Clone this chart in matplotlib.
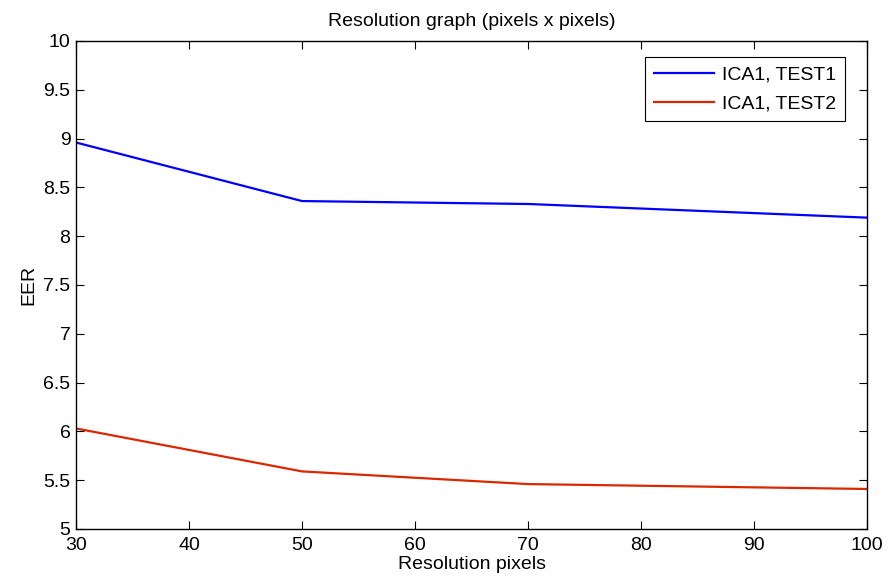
import numpy as np
import matplotlib.pyplot as plt

plt.rcParams['font.family'] = ['Liberation Sans', 'DejaVu Sans']

resolution = [30, 50, 70, 100]
eer_test1 = [8.96, 8.36, 8.33, 8.19]
eer_test2 = [6.03, 5.59, 5.46, 5.41]

fig = plt.figure(figsize=(8.9, 5.84), dpi=100)
ax = fig.add_axes([0.0854, 0.0942, 0.8888, 0.8356])

ax.plot(resolution, eer_test1, color='#0000ff', lw=1.6, label='ICA1, TEST1')
ax.plot(resolution, eer_test2, color='#d92800', lw=1.6, label='ICA1, TEST2')

ax.set_xlim(30, 100)
ax.set_ylim(5, 10)
ax.set_xticks([30, 40, 50, 60, 70, 80, 90, 100])
ax.set_yticks(np.arange(5, 10.01, 0.5))
ax.set_yticklabels(['5', '5.5', '6', '6.5', '7', '7.5', '8', '8.5', '9', '9.5', '10'])
ax.tick_params(direction='in', top=True, right=True, labelsize=14, length=6, width=0.8)
ax.tick_params(axis='x', pad=6)
ax.tick_params(axis='y', pad=4)
for s in ax.spines.values():
    s.set_linewidth(1.0)

ax.set_xlabel('Resolution pixels', fontsize=14, labelpad=1)
ax.set_ylabel('EER', fontsize=14, labelpad=4)
ax.set_title('Resolution graph (pixels x pixels)', fontsize=14, pad=11)

leg = ax.legend(loc='upper right', bbox_to_anchor=(0.972, 0.967), borderaxespad=0,
                fontsize=14, fancybox=False, edgecolor='black', framealpha=1,
                handlelength=3.1, handletextpad=0.4, borderpad=0.45, labelspacing=0.6)
leg.get_frame().set_linewidth(0.8)

fig.savefig('out.png', dpi=100)
